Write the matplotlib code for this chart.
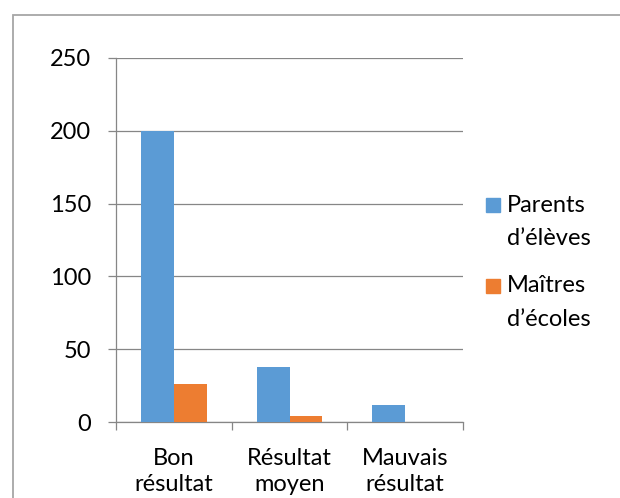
import matplotlib.pyplot as plt
from matplotlib.patches import Rectangle

categories = ['Bon\nrésultat', 'Résultat\nmoyen', 'Mauvais\nrésultat']
series_names = ['Parents\nd\u2019élèves', 'Maîtres\nd\u2019écoles']
parents = [200, 38, 12]
maitres = [26, 4, 0]
yticks = [0, 50, 100, 150, 200, 250]

blue = '#5B9BD5'
orange = '#ED7D31'
grid_col = '#868686'

plt.rcParams['font.family'] = ['Lato', 'DejaVu Sans']

fig = plt.figure(figsize=(6.2, 4.98), dpi=100)
# outer chart border (runs off right and bottom)
fig.patches.append(Rectangle((13 / 620, -0.1), 1.0, 1 - 15 / 498 + 0.1,
                             transform=fig.transFigure, fill=False,
                             edgecolor='#A6A6A6', linewidth=1.3))

ax = fig.add_axes([116 / 620, 1 - 422 / 498, (463 - 116) / 620, (422 - 58) / 498])

w = 0.285
x = list(range(len(categories)))
ax.bar([i - w / 2 for i in x], parents, width=w, color=blue, zorder=3)
ax.bar([i + w / 2 for i in x], maitres, width=w, color=orange, zorder=3)

ax.set_xlim(-0.5, 2.5)
ax.set_ylim(0, 250)
ax.set_yticks(yticks)
ax.set_yticklabels([str(v) for v in yticks], fontsize=17)
ax.yaxis.grid(True, color=grid_col, linewidth=0.9, zorder=0)
ax.set_xticks([-0.5, 0.5, 1.5, 2.5])
ax.set_xticklabels([])
ax.set_xticks(x, minor=True)
ax.set_xticklabels(categories, minor=True, fontsize=17, linespacing=1.3)
ax.tick_params(axis='x', which='minor', length=0, pad=19)
ax.tick_params(axis='x', which='major', length=6, color=grid_col, width=0.9)
ax.tick_params(axis='y', length=6, color=grid_col, width=0.9, pad=12)

for s in ['top', 'right']:
    ax.spines[s].set_visible(False)
for s in ['left', 'bottom']:
    ax.spines[s].set_color(grid_col)
    ax.spines[s].set_linewidth(0.9)

# legend drawn by hand so the swatch sits on the first text line
for name, col, top, baselines in [(series_names[0], blue, 198, (212, 245)),
                                   (series_names[1], orange, 279, (292, 326))]:
    fig.patches.append(Rectangle((486 / 620, 1 - (top + 14) / 498), 14 / 620, 14 / 498,
                                 transform=fig.transFigure, color=col))
    for line, b in zip(name.split('\n'), baselines):
        fig.text(507 / 620, 1 - b / 498, line, fontsize=17, va='baseline', ha='left')

fig.savefig('out.png', dpi=100)
